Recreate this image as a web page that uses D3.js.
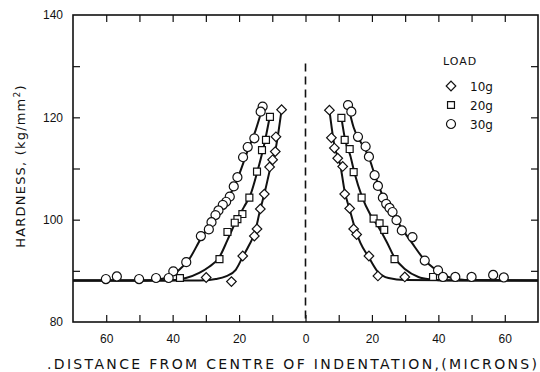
<!DOCTYPE html>
<html lang="en">
<head>
<meta charset="UTF-8">
<title>Hardness vs distance from indentation</title>
<style>
  html, body { margin: 0; padding: 0; background: #fff; }
  svg { display: block; font-family: "DejaVu Sans", sans-serif; }
  .tick text { font-size: 12px; fill: #111; }
</style>
<script src="https://d3js.org/d3.v7.min.js"></script>
</head>
<body>
<div id="chart"></div>
<script>
// measured points (x in microns, negative = left side of indentation), hardness kg/mm2
const load10 = [
  [-7.2, 121.5], [-8.9, 116.2], [-9.1, 113.3], [-9.9, 111.7], [-10.8, 110.3], [-12.4, 105],
  [-13.6, 102.1], [-14.6, 98.2], [-15.4, 96.8], [-18.9, 92.9], [-22.3, 87.9], [-29.9, 88.7],
  [7.2, 121.4], [7.8, 116], [8.7, 114], [9.7, 112], [11.2, 110.4], [11.8, 105],
  [13.3, 102.2], [14.5, 98.2], [15.4, 97.1], [19.1, 92.9], [21.8, 89], [29.9, 88.8]
];
const load20 = [
  [-10.7, 120.1], [-11.9, 115.6], [-13.1, 113.6], [-14.6, 109.4], [-16.9, 104.3], [-19, 101.1],
  [-20.5, 100.1], [-21.3, 99.4], [-23.5, 97.6], [-25.9, 92.3], [-37.8, 88.6],
  [10.8, 119.9], [11.8, 115.6], [13.3, 113.8], [14.5, 109.3], [16.9, 104.3], [20.5, 100.2],
  [22.3, 99.3], [23.7, 98], [26.8, 92.3], [38.4, 88.8]
];
const load30 = [
  [-12.9, 122.1], [-13.5, 121.1], [-15.4, 115.9], [-17.4, 114.2], [-18.8, 112.2], [-20.5, 108.3],
  [-21.6, 106.5], [-22.8, 104.5], [-23.9, 103.5], [-24.9, 102.9], [-26.2, 101.8], [-27.1, 100.9],
  [-28.3, 99.5], [-29.1, 98.1], [-31.5, 96.8], [-35.9, 91.7], [-39.8, 89.9], [-41.2, 88.6],
  [-45, 88.6], [-50.1, 88.4], [-56.8, 88.9], [-60.1, 88.4],
  [12.8, 122.4], [13.8, 121.1], [15.8, 116.2], [18.1, 114.3], [19.1, 112.3], [20.8, 108.7],
  [21.8, 106.6], [23.3, 104.3], [24.3, 103.1], [25.3, 102.3], [26.2, 101.5], [27.4, 99.9],
  [29, 97.9], [32.2, 96.6], [35.9, 92], [39.9, 90.1], [41.4, 88.8], [45.1, 88.8],
  [50, 88.8], [56.5, 89.2], [59.7, 88.7]
];

// fitted curves, one per side
const curve10Left = [[-70, 88.1], [-32, 88.1], [-27, 88.4], [-24, 88.9], [-21, 90.2], [-19, 92.6],
  [-17, 95], [-15.2, 97.6], [-13.8, 101.5], [-12.4, 105], [-10.5, 110.3], [-9, 113.8], [-7.2, 121.5]];
const curve10Right = [[7.2, 121.4], [8.7, 114.5], [10.5, 110.6], [11.8, 105.5], [13.3, 102], [14.8, 98.5],
  [16.5, 95.5], [19.1, 92.6], [21.8, 89.8], [25, 88.6], [30, 88.2], [70, 88.1]];
const curve20Left = [[-70, 88.1], [-42, 88.1], [-36, 88.6], [-32, 89.6], [-29, 90.8], [-26, 92.6],
  [-23.5, 96], [-21, 99.6], [-18.5, 102.5], [-16.5, 105], [-14.5, 109.4], [-12.5, 114.5], [-10.7, 120.3]];
const curve20Right = [[10.8, 120], [12, 115.4], [13.5, 112.5], [14.8, 109], [17, 104.5], [19.5, 101],
  [22, 98.5], [24.5, 95.6], [26.8, 92.6], [30, 90.3], [34, 88.8], [38, 88.3], [42, 88.1], [70, 88.1]];
const curve30Left = [[-70, 88.1], [-48, 88.1], [-42, 88.6], [-38, 90.2], [-35, 92.3], [-31.5, 96.3],
  [-28, 99.6], [-25, 102.6], [-22, 105.8], [-20, 108.8], [-17.5, 113.3], [-15, 117.5], [-12.8, 122.2]];
const curve30Right = [[12.8, 122.4], [14.5, 118], [16.5, 115.3], [19, 112.3], [21, 108.5], [23.5, 104.3],
  [26, 101.6], [29, 98.3], [32, 95.5], [35.5, 92.4], [39, 90.3], [43, 88.8], [48, 88.2], [70, 88.1]];

const xTicks = [-60, -50, -40, -30, -20, -10, 0, 10, 20, 30, 40, 50, 60];
const yTicks = [80, 90, 100, 110, 120, 130, 140];
const centreLineTop = 130.5;
const loadNames = ["10g", "20g", "30g"];

const width = 540, height = 372;
const x = d3.scaleLinear().domain([-70, 70]).range([73, 538]);
const y = d3.scaleLinear().domain([80, 140]).range([322, 15]);

const svg = d3.select("#chart").append("svg")
  .attr("width", width).attr("height", height);

// frame
svg.append("rect")
  .attr("x", x(-70)).attr("y", y(140))
  .attr("width", x(70) - x(-70)).attr("height", y(80) - y(140))
  .attr("fill", "none").attr("stroke", "#111").attr("stroke-width", 1.6);

// axes, ticks pointing inward
svg.append("g")
  .attr("transform", `translate(0,${y(80)})`)
  .call(d3.axisBottom(x).tickValues(xTicks).tickSizeInner(-7).tickSizeOuter(0).tickPadding(12)
    .tickFormat(d => d % 20 === 0 ? Math.abs(d) : ""))
  .call(g => g.select(".domain").remove());

svg.append("g")
  .attr("transform", `translate(0,${y(140)})`)
  .call(d3.axisTop(x).tickValues(xTicks).tickSizeInner(-7).tickSizeOuter(0).tickFormat(""))
  .call(g => g.select(".domain").remove());

svg.append("g")
  .attr("transform", `translate(${x(-70)},0)`)
  .call(d3.axisLeft(y).tickValues(yTicks).tickSizeInner(-7).tickSizeOuter(0).tickPadding(10)
    .tickFormat(d => d % 20 === 0 ? d : ""))
  .call(g => g.select(".domain").remove())
  .call(g => g.selectAll(".tick line").filter(d => d === 80 || d === 140).remove());

svg.append("g")
  .attr("transform", `translate(${x(70)},0)`)
  .call(d3.axisRight(y).tickValues(yTicks.slice(1, -1)).tickSizeInner(-7).tickSizeOuter(0).tickFormat(""))
  .call(g => g.select(".domain").remove());

svg.selectAll(".tick line").attr("stroke", "#111").attr("stroke-width", 1.2);

// dashed centre line
svg.append("line")
  .attr("x1", x(0)).attr("x2", x(0))
  .attr("y1", y(centreLineTop)).attr("y2", y(80))
  .attr("stroke", "#111").attr("stroke-width", 1.6)
  .attr("stroke-dasharray", "8,5");

// curves
const line = d3.line().x(d => x(d[0])).y(d => y(d[1])).curve(d3.curveMonotoneX);
svg.append("g")
  .selectAll("path")
  .data([curve10Left, curve10Right, curve20Left, curve20Right, curve30Left, curve30Right])
  .join("path")
  .attr("d", line)
  .attr("fill", "none").attr("stroke", "#111").attr("stroke-width", 2);

// markers
const shapes = [
  { data: load10, sym: d3.symbolSquare, size: 46, rot: 45 },
  { data: load20, sym: d3.symbolSquare, size: 48, rot: 0 },
  { data: load30, sym: d3.symbolCircle, size: 64, rot: 0 }
];
shapes.forEach(s => {
  svg.append("g")
    .selectAll("path")
    .data(s.data)
    .join("path")
    .attr("d", d3.symbol(s.sym, s.size))
    .attr("transform", d => `translate(${x(d[0])},${y(d[1])}) rotate(${s.rot})`)
    .attr("fill", "#fff").attr("stroke", "#111").attr("stroke-width", 1.2);
});

// legend
const legend = svg.append("g").attr("transform", "translate(443,0)");
legend.append("text")
  .attr("x", 0).attr("y", 65)
  .attr("font-size", 11).attr("letter-spacing", 1).attr("fill", "#111")
  .text("LOAD");
shapes.forEach((s, i) => {
  const yy = 86 + i * 19;
  legend.append("path")
    .attr("d", d3.symbol(s.sym, s.size))
    .attr("transform", `translate(8,${yy}) rotate(${s.rot})`)
    .attr("fill", "#fff").attr("stroke", "#111").attr("stroke-width", 1.2);
  legend.append("text")
    .attr("x", 27).attr("y", yy + 4.5)
    .attr("font-size", 12).attr("fill", "#111")
    .text(loadNames[i]);
});

// axis titles
svg.append("text")
  .attr("x", 292).attr("y", 369)
  .attr("text-anchor", "middle")
  .attr("font-size", 14).attr("fill", "#111")
  .attr("textLength", 490).attr("lengthAdjust", "spacing")
  .text(".DISTANCE FROM CENTRE OF INDENTATION,(MICRONS)");

const yTitle = svg.append("text")
  .attr("transform", "translate(25,166) rotate(-90)")
  .attr("text-anchor", "middle")
  .attr("font-size", 13).attr("fill", "#111")
  .attr("letter-spacing", 1.2);
yTitle.append("tspan").text("HARDNESS, (kg/mm");
yTitle.append("tspan").attr("dy", -5).attr("font-size", 9).text("2");
yTitle.append("tspan").attr("dy", 5).text(")");
</script>
</body>
</html>
